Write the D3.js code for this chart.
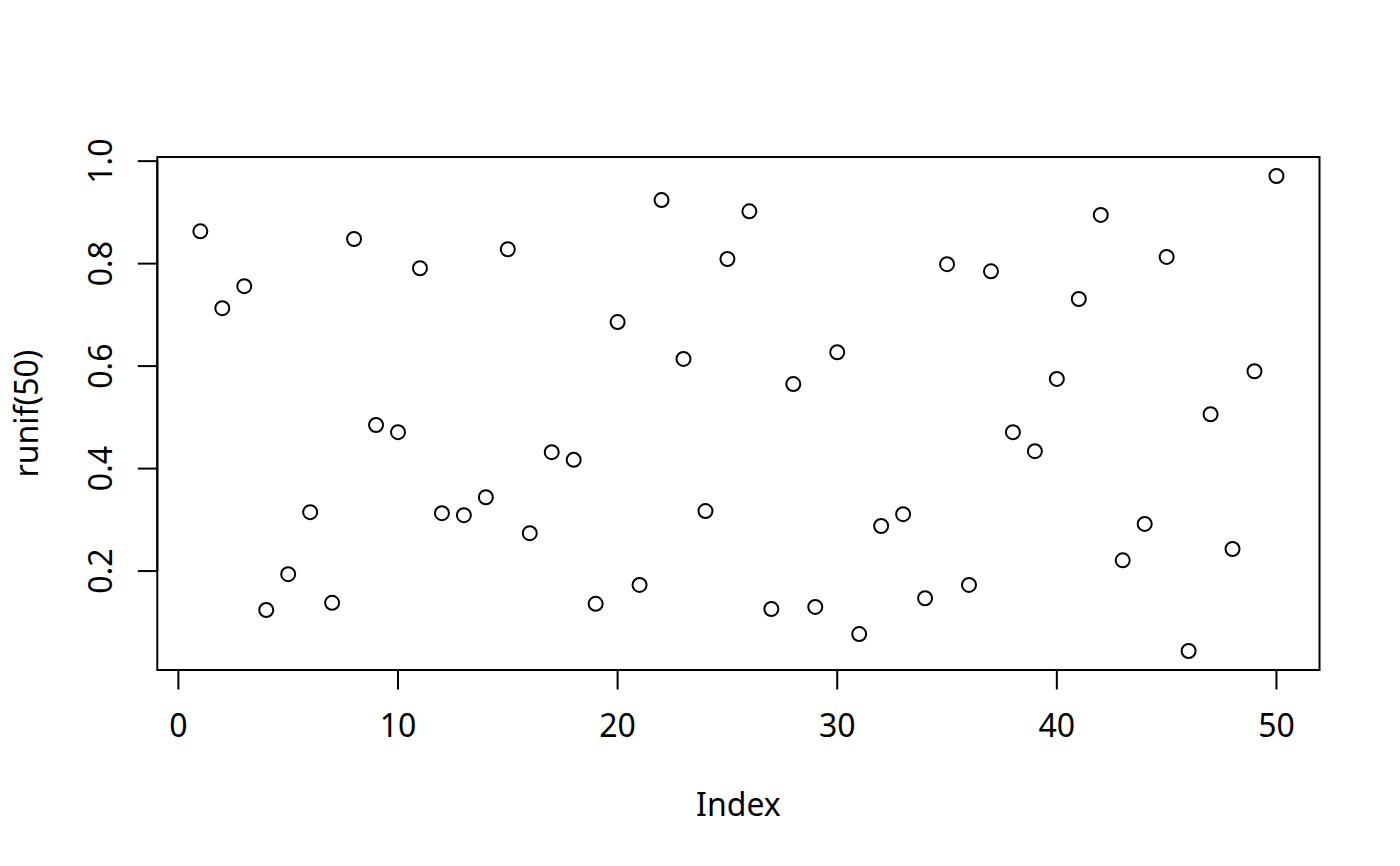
<!DOCTYPE html>
<html>
<head>
<meta charset="utf-8">
<script src="https://cdn.jsdelivr.net/npm/d3@7"></script>
<style>
html,body{margin:0;padding:0;background:#fff;}
svg text{font-family:"Noto Sans","Open Sans",sans-serif;fill:#000;}
</style>
</head>
<body>
<svg id="chart" width="1400" height="866"></svg>
<script>
const index = d3.range(1, 51);
const values = [
 0.863,0.713,0.756,0.124,0.194,0.315,0.138,0.848,0.485,0.471,
 0.791,0.313,0.309,0.344,0.828,0.274,0.432,0.417,0.136,0.686,
 0.173,0.924,0.614,0.317,0.809,0.902,0.126,0.565,0.130,0.627,
 0.077,0.288,0.311,0.147,0.799,0.173,0.785,0.471,0.434,0.575,
 0.731,0.895,0.221,0.292,0.813,0.044,0.506,0.243,0.590,0.971
];
const xTicks = [0,10,20,30,40,50];
const yTicks = [0.2,0.4,0.6,0.8,1.0];
const xLabel = "Index";
const yLabel = "runif(50)";

const svg = d3.select("#chart");
const L = 157.3, R = 1319.5, T = 157, B = 670;
const fs = 32;

function ext(lo, hi){ const d=(hi-lo)*0.04; return [lo-d, hi+d]; }
const x = d3.scaleLinear().domain(ext(1, 50)).range([L, R]);
const y = d3.scaleLinear().domain(ext(d3.min(values), d3.max(values))).range([B, T]);

// box
svg.append("rect").attr("x", L).attr("y", T).attr("width", R-L).attr("height", B-T)
  .attr("fill","none").attr("stroke","#000").attr("stroke-width",2);

// x axis
const xa = svg.append("g");
xa.append("line").attr("x1", x(xTicks[0])).attr("x2", x(xTicks[xTicks.length-1]))
  .attr("y1", B).attr("y2", B).attr("stroke","#000").attr("stroke-width",2);
xa.selectAll("line.t").data(xTicks).enter().append("line").attr("class","t")
  .attr("x1", d=>x(d)).attr("x2", d=>x(d)).attr("y1", B).attr("y2", B+19.5)
  .attr("stroke","#000").attr("stroke-width",2);
xa.selectAll("text").data(xTicks).enter().append("text")
  .attr("x", d=>x(d)).attr("y", 737).attr("text-anchor","middle")
  .attr("font-size", fs).text(d=>d);

// y axis
const ya = svg.append("g");
ya.append("line").attr("x1", L).attr("x2", L)
  .attr("y1", y(yTicks[0])).attr("y2", y(yTicks[yTicks.length-1]))
  .attr("stroke","#000").attr("stroke-width",2);
ya.selectAll("line.t").data(yTicks).enter().append("line").attr("class","t")
  .attr("x1", L).attr("x2", L-19.5).attr("y1", d=>y(d)).attr("y2", d=>y(d))
  .attr("stroke","#000").attr("stroke-width",2);
ya.selectAll("text").data(yTicks).enter().append("text")
  .attr("transform", d=>`translate(112,${y(d)}) rotate(-90)`)
  .attr("text-anchor","middle").attr("font-size", fs).text(d=>d.toFixed(1));

// labels
svg.append("text").attr("x", (L+R)/2).attr("y", 816).attr("text-anchor","middle")
  .attr("font-size", fs).text(xLabel);
svg.append("text").attr("transform", `translate(38,${(T+B)/2}) rotate(-90)`)
  .attr("text-anchor","middle").attr("font-size", fs).text(yLabel);

// points
svg.append("g").selectAll("circle").data(values).enter().append("circle")
  .attr("cx", (d,i)=>x(index[i])).attr("cy", d=>y(d)).attr("r", 7)
  .attr("fill","none").attr("stroke","#000").attr("stroke-width",2);
</script>
</body>
</html>
